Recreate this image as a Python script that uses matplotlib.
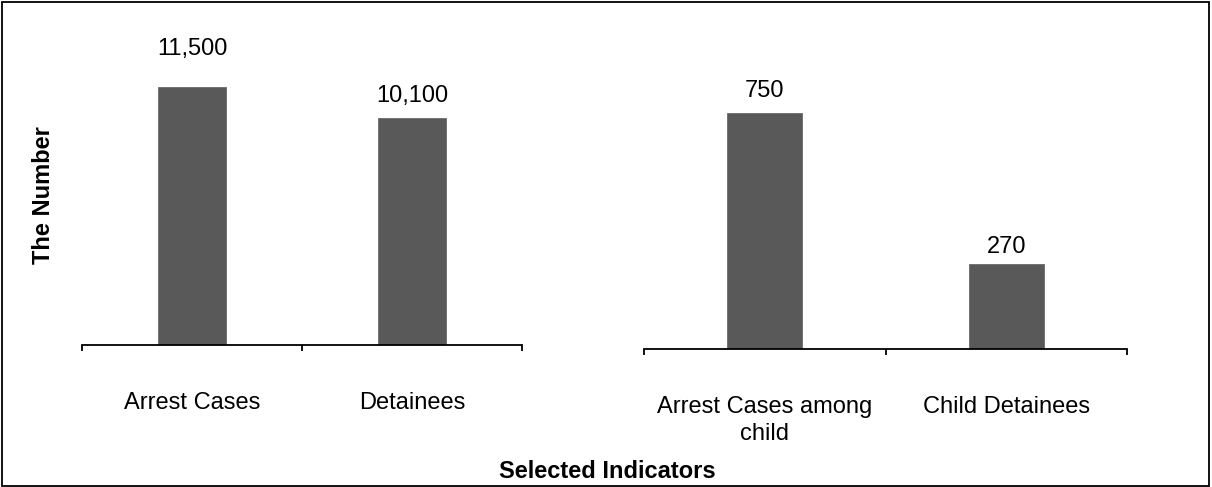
import matplotlib.pyplot as plt
from matplotlib.patches import Rectangle

plt.rcParams['font.family'] = ['Liberation Sans', 'DejaVu Sans']

# Data
left_labels = ["Arrest Cases", "Detainees"]
left_values = [11500, 10100]
right_labels = ["Arrest Cases among\nchild", "Child Detainees"]
right_values = [750, 270]

BAR_COLOR = "#595959"
# gap between bar top and value label (points), per bar
left_pads = [23, 11.5]
right_pads = [11.5, 8]

fig = plt.figure(figsize=(12.12, 4.87), dpi=100)

ax1 = fig.add_axes([82 / 1212, 142 / 487, 440 / 1212, 291.7 / 487])
ax2 = fig.add_axes([644 / 1212, 138 / 487, 483 / 1212, 267.5 / 487])


def draw_panel(ax, labels, values, pads, ymax):
    x = list(range(len(values)))
    bars = ax.bar(x, values, width=0.31, color=BAR_COLOR, edgecolor="#6a6a6a", linewidth=0.6)
    for b, v, p in zip(bars, values, pads):
        ax.annotate(f"{v:,}", (b.get_x() + b.get_width() / 2, v),
                    xytext=(0, p), textcoords="offset points",
                    ha="center", va="baseline", fontsize=17)
    ax.set_xlim(-0.5, len(values) - 0.5)
    ax.set_ylim(0, ymax)
    for s in ["top", "right", "left"]:
        ax.spines[s].set_visible(False)
    ax.spines["bottom"].set_linewidth(1.3)
    ax.set_yticks([])
    ax.set_xticks([i - 0.5 for i in range(len(values) + 1)])
    ax.set_xticklabels([])
    ax.tick_params(axis="x", which="major", direction="out", length=4, width=1.3)
    ax.set_xticks(x, minor=True)
    ax.set_xticklabels(labels, minor=True, fontsize=17, linespacing=1.3)
    ax.tick_params(axis="x", which="minor", length=0, pad=34)


draw_panel(ax1, left_labels, left_values, left_pads, 13000)
draw_panel(ax2, right_labels, right_values, right_pads, 850)

fig.text(44 / 1212, 1 - 195 / 487, "The Number", rotation=90, ha="center", va="center",
         fontsize=17, fontweight="bold")
fig.text(607 / 1212, 1 - 472 / 487, "Selected Indicators", ha="center", va="center",
         fontsize=17, fontweight="bold")

fig.patches.append(Rectangle((2.5 / 1212, 1.5 / 487), 1206.5 / 1212, 484 / 487,
                             transform=fig.transFigure, fill=False,
                             edgecolor="black", linewidth=1.3))

fig.savefig("out.png", dpi=100)
